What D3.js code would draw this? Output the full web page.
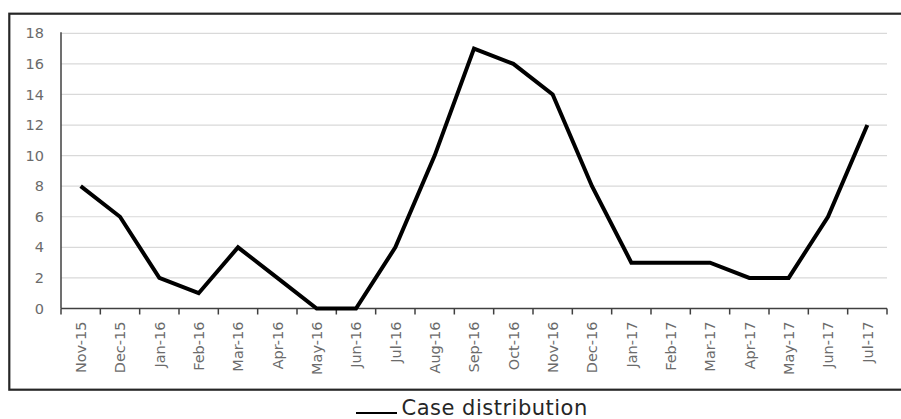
<!DOCTYPE html>
<html><head><meta charset="utf-8">
<script src="https://cdn.jsdelivr.net/npm/d3@7"></script>
<style>html,body{margin:0;padding:0;background:#fff;overflow:hidden}</style>
</head><body>
<svg id="c" width="901" height="419"></svg>
<script>
const categories = ["Nov-15","Dec-15","Jan-16","Feb-16","Mar-16","Apr-16","May-16","Jun-16","Jul-16","Aug-16","Sep-16","Oct-16","Nov-16","Dec-16","Jan-17","Feb-17","Mar-17","Apr-17","May-17","Jun-17","Jul-17"];
const cases = [8,6,2,1,4,2,0,0,4,10,17,16,14,8,3,3,3,2,2,6,12];
const yTicks = [0,2,4,6,8,10,12,14,16,18];
const seriesName = "Case distribution";

const svg = d3.select("#c");
const L = 61, R = 887, T = 33.3, B = 308.5;
const x = d3.scaleBand().domain(categories).range([L, R]);
const y = d3.scaleLinear().domain([0, 18]).range([B, T]);

// outer box
svg.append("rect").attr("x", 9.3).attr("y", 13.7).attr("width", 900).attr("height", 376)
  .attr("fill", "none").attr("stroke", "#262626").attr("stroke-width", 2.2);

// gridlines
svg.append("g").selectAll("line").data(yTicks.filter(d => d > 0)).join("line")
  .attr("x1", L).attr("x2", R).attr("y1", d => y(d)).attr("y2", d => y(d))
  .attr("stroke", "#d9d9d9").attr("stroke-width", 1.2);

// y axis
const yAxis = d3.axisLeft(y).tickValues(yTicks).tickSize(0).tickPadding(17);
const gy = svg.append("g").attr("transform", `translate(${L},0)`).call(yAxis);
gy.select(".domain").remove();
gy.selectAll("text").attr("fill", "#6b6b6b").style("font-family", "DejaVu Sans").style("font-size", "14.5px");
svg.append("line").attr("x1", L).attr("x2", L).attr("y1", T - 1).attr("y2", B)
  .attr("stroke", "#404040").attr("stroke-width", 1.5);

// x axis
const xAxis = d3.axisBottom(x).tickSize(0).tickPadding(0);
const gx = svg.append("g").attr("transform", `translate(0,${B})`).call(xAxis);
gx.select(".domain").remove();
gx.selectAll(".tick text")
  .attr("transform", "rotate(-90)")
  .attr("x", -13).attr("y", 0).attr("dy", "0.36em")
  .attr("text-anchor", "end")
  .attr("fill", "#6b6b6b").style("font-family", "DejaVu Sans").style("font-size", "14.5px");
svg.append("line").attr("x1", L).attr("x2", R).attr("y1", B).attr("y2", B)
  .attr("stroke", "#404040").attr("stroke-width", 1.5);
const bounds = categories.map(c => x(c)).concat([R]);
svg.append("g").selectAll("line").data(bounds).join("line")
  .attr("x1", d => d).attr("x2", d => d).attr("y1", B).attr("y2", B + 6)
  .attr("stroke", "#404040").attr("stroke-width", 1.5);

// line
const line = d3.line().x((d, i) => x(categories[i]) + x.bandwidth() / 2).y(d => y(d));
svg.append("path").datum(cases).attr("d", line)
  .attr("fill", "none").attr("stroke", "#000").attr("stroke-width", 4)
  .attr("stroke-linejoin", "miter").attr("stroke-miterlimit", 2);

// legend
svg.append("line").attr("x1", 356).attr("x2", 397).attr("y1", 413).attr("y2", 413)
  .attr("stroke", "#000").attr("stroke-width", 2.2);
svg.append("text").attr("x", 401.5).attr("y", 414.5).text(seriesName)
  .attr("fill", "#262626").style("font-family", "DejaVu Sans").style("font-size", "21px")
  .style("letter-spacing", "0.5px");
</script>
</body></html>
